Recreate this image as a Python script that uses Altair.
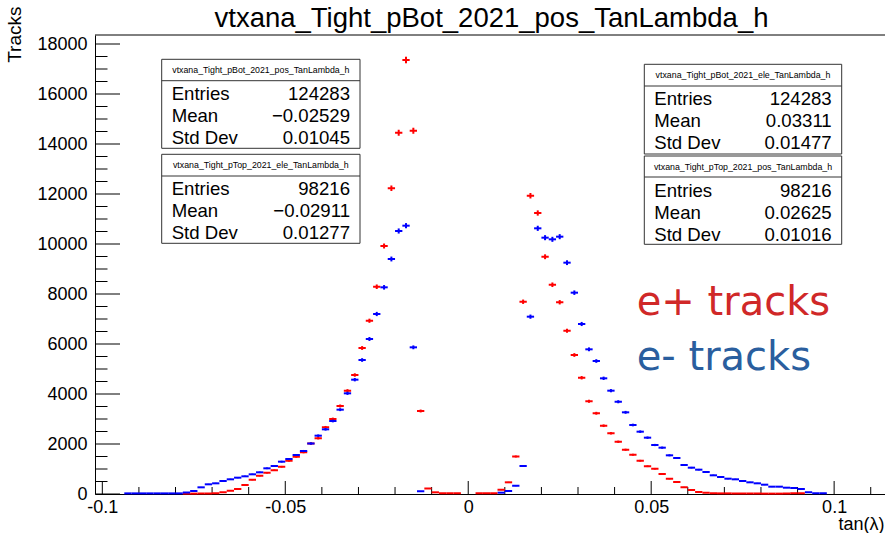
import math
import altair as alt
import pandas as pd

# ---------------- data ----------------
BIN_START = -0.1
BIN_WIDTH = 0.002

# e+ tracks (red), 100 bins of width 0.002 from -0.1 to 0.1
red_counts = [
    0, 0, 0, 0, 0, 0, 0, 0, 0, 0, 0,
    15, 15, 20, 20, 30,
    70, 130, 200, 360, 570, 730, 850, 950, 1090,
    1330, 1490, 1670, 2020, 2230, 2670, 3000, 3520, 4130, 4760,
    5840, 6930, 8290, 9920, 12230, 14450, 17360, 14530, 3320, 220,
    67, 30, 30, 30, 0, 0, 30, 30, 30,
    170, 467, 1500, 7690, 11930, 11240, 9490, 8370, 7670, 6530,
    5560, 4650, 3710, 3230, 2730, 2430, 2090, 1770, 1570, 1330,
    1110, 1010, 800, 610, 480, 270, 160, 80, 50, 30,
    25, 25, 20, 20, 20, 20, 15, 15, 15, 20, 30, 30,
    0, 0, 0, 0,
]
# e- tracks (blue)
blue_counts = [
    0, 0, 0,
    25, 25, 25, 25, 25, 25, 25, 25,
    60, 120, 267, 387, 427,
    520, 587, 653, 707, 787, 867, 1027, 1120, 1293,
    1400, 1560, 1720, 2020, 2333, 2587, 2920, 3373, 4027, 4573,
    5360, 6200, 7200, 8267, 9400, 10520, 10733, 5867, 110, 0,
    0, 0, 0, 0, 0, 0, 0, 0, 0,
    53, 120, 330, 1120, 7093, 10627, 10253, 10187, 10293, 9253,
    8053, 6800, 5787, 5320, 4627, 4133, 3690, 3267, 2760, 2493,
    2253, 1960, 1853, 1547, 1440, 1160, 1053, 973, 880, 747,
    680, 613, 587, 520, 467, 427, 373, 293, 293, 253, 240, 200,
    70, 30, 30, 0,
]
assert len(red_counts) == 100 and len(blue_counts) == 100

x_label_values = [-0.1, -0.05, 0.0, 0.05, 0.1]
x_minor_values = [-0.09, -0.08, -0.07, -0.06, -0.04, -0.03, -0.02, -0.01,
                  0.01, 0.02, 0.03, 0.04, 0.06, 0.07, 0.08, 0.09, 0.11]
y_label_values = [0, 2000, 4000, 6000, 8000, 10000, 12000, 14000, 16000, 18000]
y_minor_values = [500, 1000, 1500, 2500, 3000, 3500, 4500, 5000, 5500, 6500, 7000, 7500,
                  8500, 9000, 9500, 10500, 11000, 11500, 12500, 13000, 13500,
                  14500, 15000, 15500, 16500, 17000, 17500]

title_text = "vtxana_Tight_pBot_2021_pos_TanLambda_h"
stat_titles = ["vtxana_Tight_pBot_2021_pos_TanLambda_h",
               "vtxana_Tight_pTop_2021_ele_TanLambda_h",
               "vtxana_Tight_pBot_2021_ele_TanLambda_h",
               "vtxana_Tight_pTop_2021_pos_TanLambda_h"]
stat_entries = ["124283", "98216", "124283", "98216"]
stat_means = ["\u22120.02529", "\u22120.02911", "0.03311", "0.02625"]
stat_stds = ["0.01045", "0.01277", "0.01477", "0.01016"]
stat_row_names = ["Entries", "Mean", "Std Dev"]

# ---------------- layout / style ----------------
W, H = 790, 459
FONT = "Liberation Sans"
RED, BLUE = "#ff0000", "#0000ff"
box_pos = [  # x0, x1, y0, y1, divider  (pixels in plot area)
    (66.7, 265.0, 24.3, 113.3, 45.7),
    (66.7, 265.0, 119.3, 208.3, 141.0),
    (549.3, 746.7, 29.3, 119.0, 51.0),
    (549.3, 746.7, 121.0, 209.3, 142.0),
]

xs = alt.Scale(domain=[-0.1020, 0.1139], nice=False, zero=False)
ys = alt.Scale(domain=[0, 18360], nice=False, zero=False)

x_axis = alt.Axis(values=x_label_values, ticks=False, grid=False, domain=True,
                  domainColor="black", domainWidth=1,
                  labelExpr="(datum.value < 0 ? '-' : '') + format(abs(datum.value), '~g')",
                  labelFont=FONT, labelFontSize=18, labelColor="black", labelPadding=4,
                  labelFlush=False, labelOverlap=False,
                  title="tan(\u03bb)", titleFont=FONT, titleFontSize=18, titleFontWeight="normal",
                  titleColor="black", titleX=789, titleY=35, titleAlign="right",
                  titleBaseline="alphabetic")
y_axis = alt.Axis(values=y_label_values, ticks=False, grid=False, domain=True,
                  domainColor="black", domainWidth=1, format="d",
                  labelFont=FONT, labelFontSize=18, labelColor="black", labelPadding=8,
                  labelFlush=False, labelOverlap=False,
                  title="Tracks", titleFont=FONT, titleFontSize=19, titleFontWeight="normal",
                  titleColor="black", titleAngle=270, titleX=-75, titleY=-29,
                  titleAlign="right", titleBaseline="alphabetic")


def X(field):
    return alt.X(f"{field}:Q", scale=xs, axis=x_axis)


def Y(field):
    return alt.Y(f"{field}:Q", scale=ys, axis=y_axis)


def hist_frame(counts):
    rows = []
    for i, n in enumerate(counts):
        if n <= 0:
            continue
        lo = BIN_START + i * BIN_WIDTH
        e = math.sqrt(n)
        rows.append(dict(lo=lo, hi=lo + BIN_WIDTH, c=lo + BIN_WIDTH / 2, n=n,
                         elo=n - e, ehi=n + e))
    return pd.DataFrame(rows)


def hist_layers(df, color):
    h = alt.Chart(df).mark_rule(color=color, strokeWidth=2, strokeCap="butt").encode(
        x=X("lo"), x2="hi", y=Y("n"))
    v = alt.Chart(df).mark_rule(color=color, strokeWidth=2, strokeCap="butt").encode(
        x=X("c"), y=Y("elo"), y2="ehi")
    return [h, v]


red_df = hist_frame(red_counts)
blue_df = hist_frame(blue_counts)

layers = []


def xticks(vals, length):
    df = pd.DataFrame({"v": vals})
    return alt.Chart(df).mark_rule(color="black", strokeWidth=1).encode(
        x=X("v"), y=alt.value(H), y2=alt.value(H - length))


def yticks(vals, length):
    df = pd.DataFrame({"v": vals})
    return alt.Chart(df).mark_rule(color="black", strokeWidth=1).encode(
        y=Y("v"), x=alt.value(0), x2=alt.value(length))


layers += [xticks(x_label_values, 13), xticks(x_minor_values, 7),
           yticks(y_label_values, 25), yticks(y_minor_values, 12.5)]

one = pd.DataFrame({"k": [0]})
layers.append(alt.Chart(one).mark_rule(color="black", strokeWidth=1).encode(
    x=alt.value(0), x2=alt.value(W), y=alt.value(0)))

# histograms: left half blue drawn over red, right half red over blue
layers += hist_layers(red_df[red_df.c < 0], RED)
layers += hist_layers(blue_df[blue_df.c < 0], BLUE)
layers += hist_layers(blue_df[blue_df.c > 0], BLUE)
layers += hist_layers(red_df[red_df.c > 0], RED)

# stats boxes
for k, (x0, x1, y0, y1, dv) in enumerate(box_pos):
    layers.append(alt.Chart(one).mark_rect(fill="white", stroke="#333333", strokeWidth=1).encode(
        x=alt.value(x0), x2=alt.value(x1), y=alt.value(y0), y2=alt.value(y1)))
    layers.append(alt.Chart(one).mark_rule(color="#333333", strokeWidth=1).encode(
        x=alt.value(x0), x2=alt.value(x1), y=alt.value(dv)))
    layers.append(alt.Chart(one).mark_text(text=stat_titles[k], font=FONT, fontSize=8.8,
                                           align="center", baseline="alphabetic", color="black").encode(
        x=alt.value((x0 + x1) / 2), y=alt.value(y0 + 13.7)))
    vals = [stat_entries[k], stat_means[k], stat_stds[k]]
    for r, off in enumerate([40.5, 62.5, 84.5]):
        layers.append(alt.Chart(one).mark_text(text=stat_row_names[r], font=FONT, fontSize=18.6,
                                               align="left", baseline="alphabetic", color="black").encode(
            x=alt.value(x0 + 10), y=alt.value(y0 + off)))
        layers.append(alt.Chart(one).mark_text(text=vals[r], font=FONT, fontSize=18.6,
                                               align="right", baseline="alphabetic", color="black").encode(
            x=alt.value(x1 - 10), y=alt.value(y0 + off)))

# e+ / e- labels
layers.append(alt.Chart(one).mark_text(text="e+ tracks", font="DejaVu Sans", fontSize=40,
                                       align="left", baseline="alphabetic", color="#d02828").encode(
    x=alt.value(541.7), y=alt.value(280)))
layers.append(alt.Chart(one).mark_text(text="e- tracks", font="DejaVu Sans", fontSize=40,
                                       align="left", baseline="alphabetic", color="#2a5e9e").encode(
    x=alt.value(541.7), y=alt.value(335)))

# histogram title (drawn as text above the frame)
layers.append(alt.Chart(one).mark_text(text=title_text, font=FONT, fontSize=27.5,
                                       align="center", baseline="alphabetic", color="black").encode(
    x=alt.value(396.5), y=alt.value(-8)))

chart = alt.layer(*layers).properties(
    width=W, height=H,
    padding={"left": 95, "top": 35, "right": 0, "bottom": 39},
    autosize=alt.AutoSizeParams(type="none"),
    background="white",
).configure_view(stroke=None)

chart.save("out.html", embed_options={"renderer": "svg", "actions": False})
